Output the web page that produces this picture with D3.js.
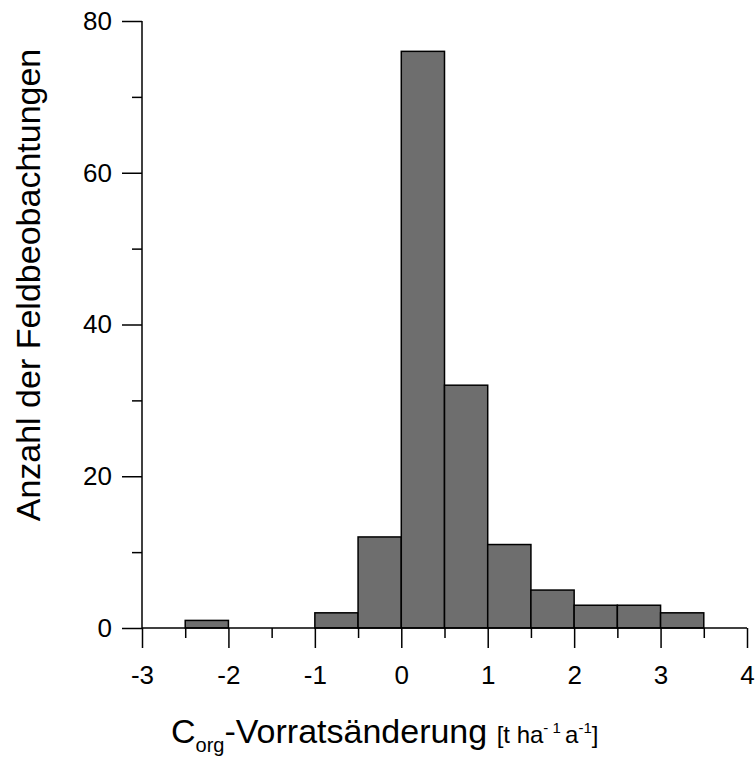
<!DOCTYPE html>
<html><head><meta charset="utf-8">
<script src="https://cdn.jsdelivr.net/npm/d3@7"></script>
<style>body{margin:0;background:#fff}svg{display:block}text{font-family:"Liberation Sans",Arial,sans-serif;fill:#000}</style>
</head><body>
<svg id="c" width="755" height="758"></svg>
<script>
const binStarts = [-2.5, -1, -0.5, 0, 0.5, 1, 1.5, 2, 2.5, 3];
const counts = [1, 2, 12, 76, 32, 11, 5, 3, 3, 2];
const binWidth = 0.5;
const xTicks = [-3, -2, -1, 0, 1, 2, 3, 4];
const xMinorTicks = [-2.5, -1.5, -0.5, 0.5, 1.5, 2.5, 3.5];
const yTicks = [0, 20, 40, 60, 80];
const yMinorTicks = [10, 30, 50, 70];

const svg = d3.select("#c");
const x = d3.scaleLinear().domain([-3, 4]).range([142, 747]);
const y = d3.scaleLinear().domain([0, 80]).range([628, 21]);
const fmt = d => String(d); // plain hyphen-minus

// bars
svg.append("g").selectAll("rect").data(binStarts).join("rect")
  .attr("x", d => x(d)).attr("width", d => x(d + binWidth) - x(d))
  .attr("y", (d, i) => y(counts[i])).attr("height", (d, i) => y(0) - y(counts[i]))
  .attr("fill", "#6e6e6e").attr("stroke", "#000").attr("stroke-width", 1.5);

// x axis
const xa = svg.append("g").attr("transform", `translate(0,${y(0)})`)
  .call(d3.axisBottom(x).tickValues(xTicks).tickSize(20).tickPadding(18).tickFormat(fmt));
xa.select(".domain").remove();
svg.append("line").attr("x1", x(-3)).attr("x2", x(4)).attr("y1", y(0)).attr("y2", y(0)).attr("stroke", "#000").attr("stroke-width", 1.5);
svg.append("g").attr("transform", `translate(0,${y(0)})`)
  .call(d3.axisBottom(x).tickValues(xMinorTicks).tickSize(10).tickFormat(""))
  .select(".domain").remove();

// y axis
const ya = svg.append("g").attr("transform", `translate(${x(-3)},0)`)
  .call(d3.axisLeft(y).tickValues(yTicks).tickSize(20).tickPadding(10).tickFormat(fmt));
ya.select(".domain").remove();
svg.append("line").attr("x1", x(-3)).attr("x2", x(-3)).attr("y1", y(0)).attr("y2", y(80)).attr("stroke", "#000").attr("stroke-width", 1.5);
svg.append("g").attr("transform", `translate(${x(-3)},0)`)
  .call(d3.axisLeft(y).tickValues(yMinorTicks).tickSize(10).tickFormat(""))
  .select(".domain").remove();

svg.selectAll(".tick line").attr("stroke", "#000").attr("stroke-width", 1.5);
svg.selectAll(".tick text").attr("font-size", 26).attr("font-family", "Liberation Sans, Arial, sans-serif").attr("fill", "#000");

// axis titles
const xt = svg.append("text").attr("x", 171).attr("y", 743).attr("font-size", 34);
xt.append("tspan").text("C");
xt.append("tspan").attr("font-size", 20).attr("dy", 9).text("org");
xt.append("tspan").attr("dy", -9).text("-Vorratsänderung ");
xt.append("tspan").attr("font-size", 24).text("[t ha");
xt.append("tspan").attr("font-size", 15).attr("dy", -10).text("- 1 ");
xt.append("tspan").attr("font-size", 24).attr("dy", 10).text("a");
xt.append("tspan").attr("font-size", 15).attr("dy", -10).text("-1");
xt.append("tspan").attr("font-size", 24).attr("dy", 10).text("]");

svg.append("text").attr("transform", "translate(40,285) rotate(-90)").attr("text-anchor", "middle")
  .attr("font-size", 34).text("Anzahl der Feldbeobachtungen");
</script>
</body></html>
